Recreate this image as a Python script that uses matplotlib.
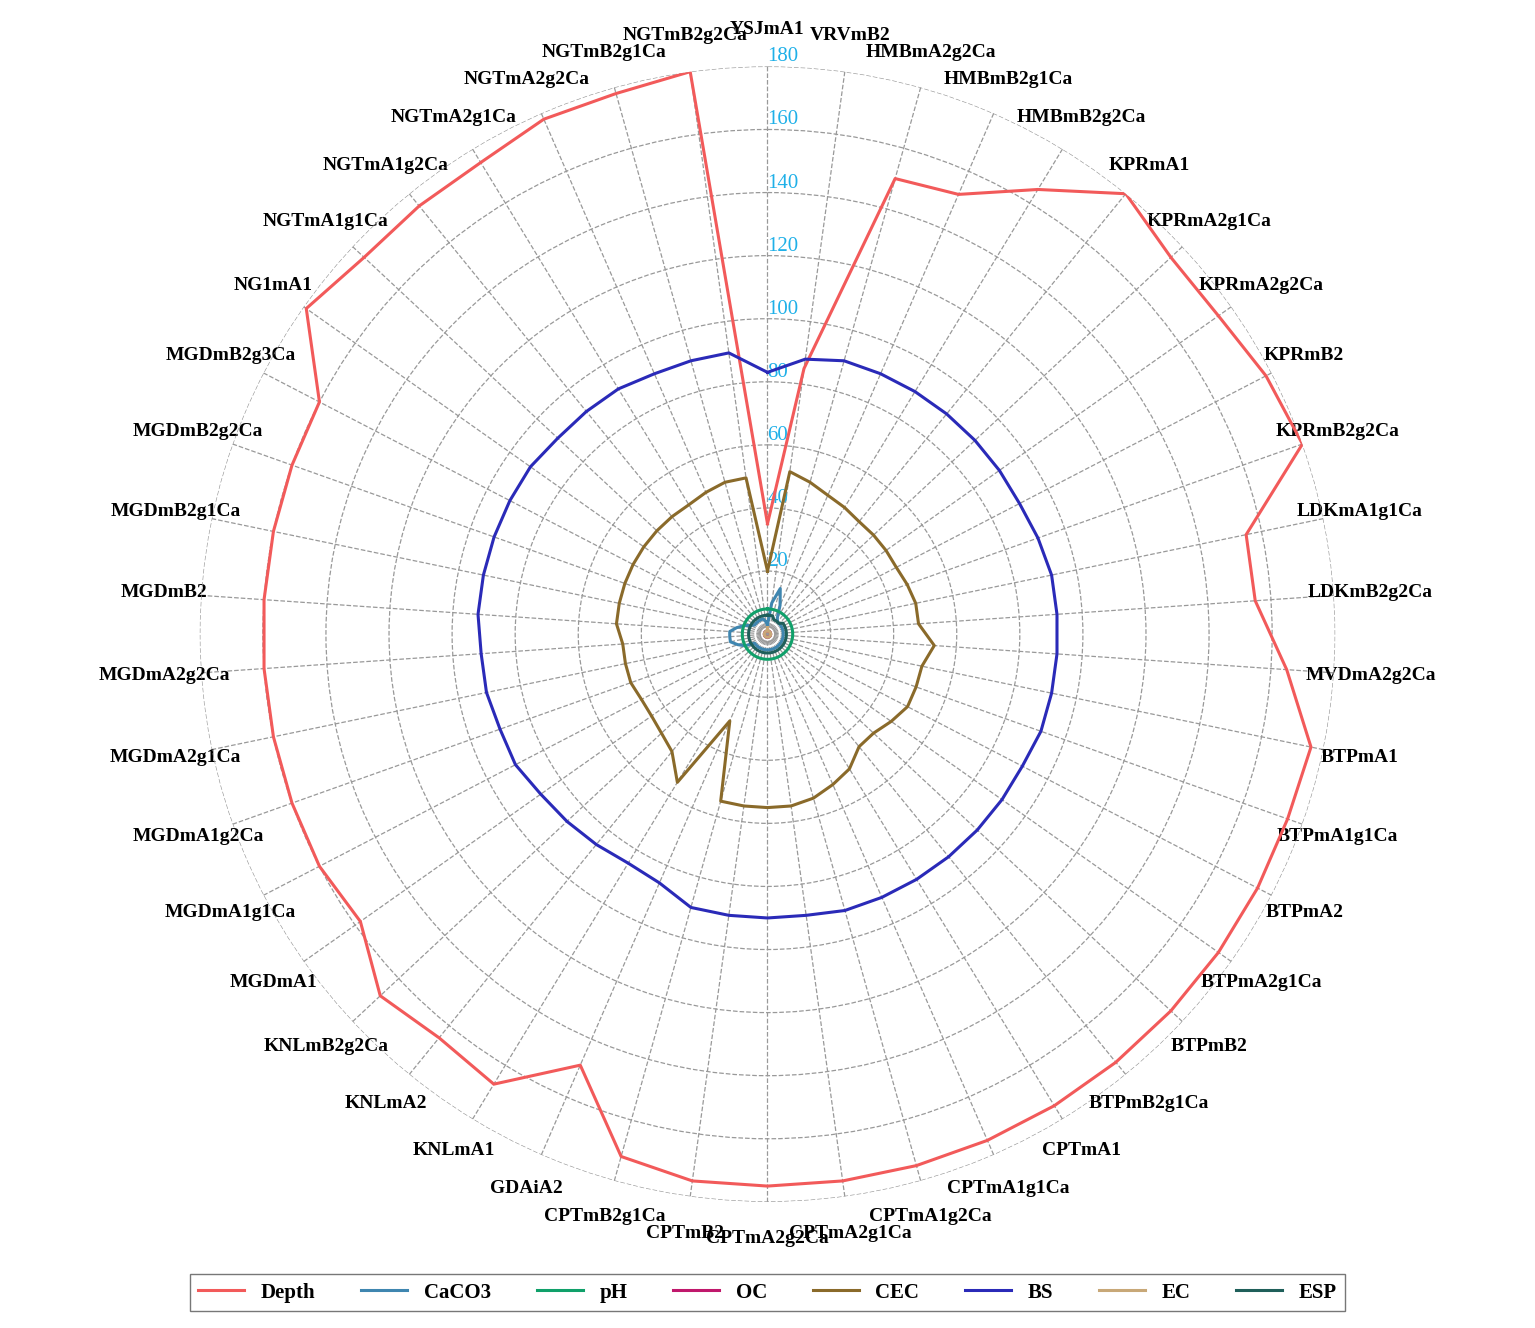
import numpy as np
import matplotlib
matplotlib.use("Agg")
import matplotlib.pyplot as plt

categories = ["YSJmA1","VRVmB2","HMBmA2g2Ca","HMBmB2g1Ca","HMBmB2g2Ca","KPRmA1","KPRmA2g1Ca",
"KPRmA2g2Ca","KPRmB2","KPRmB2g2Ca","LDKmA1g1Ca","LDKmB2g2Ca","MVDmA2g2Ca","BTPmA1","BTPmA1g1Ca",
"BTPmA2","BTPmA2g1Ca","BTPmB2","BTPmB2g1Ca","CPTmA1","CPTmA1g1Ca","CPTmA1g2Ca","CPTmA2g1Ca",
"CPTmA2g2Ca","CPTmB2","CPTmB2g1Ca","GDAiA2","KNLmA1","KNLmA2","KNLmB2g2Ca","MGDmA1","MGDmA1g1Ca",
"MGDmA1g2Ca","MGDmA2g1Ca","MGDmA2g2Ca","MGDmB2","MGDmB2g1Ca","MGDmB2g2Ca","MGDmB2g3Ca","NG1mA1",
"NGTmA1g1Ca","NGTmA1g2Ca","NGTmA2g1Ca","NGTmA2g2Ca","NGTmB2g1Ca","NGTmB2g2Ca"]

depth = [35,85,150,152,165,180,175,175,178,180,155,155,165,176,175,175,175,175,175,175,175,175,175,
         175,175,172,149,167,165,168,158,160,160,160,160,160,160,160,160,179,175,175,175,178,178,180]
bs = [83,88,90,90,90,90,90,90,90,91,92,92,92,92,92,91,91,91,91,91,91,91,90,90,90,90,86,85,86,87,
      88,90,90,91,91,92,92,92,92,92,91,91,91,90,90,90]
cec = [20,52,50,48,47,46,46,46,46,47,48,48,53,50,50,50,48,46,46,50,52,54,55,55,55,55,30,55,48,46,
       45,45,46,46,46,48,48,48,48,48,48,48,48,49,50,50]
caco3 = [3,10,15,10,6,5,5,5,5,5,5,5,5,5,5,5,5,5,5,5,5,5,5,5,5,5,5,5,5,5,5,8,10,12,12,12,10,8,6,5,5,5,5,5,5,4]
ph = [8]*46
oc = [1]*46
ec = [2]+[1]*45
esp = [6,6,6,5,5,5,5]+[6]*39
ticks = [20,40,60,80,100,120,140,160,180]

series = [("Depth",depth,"#f25a5a"),("CaCO3",caco3,"#3f86b0"),("pH",ph,"#10a06a"),
          ("OC",oc,"#c0186c"),("CEC",cec,"#8a6a2a"),("BS",bs,"#2a2ab8"),
          ("EC",ec,"#c8a878"),("ESP",esp,"#1f5f5a")]

plt.rcParams['font.family'] = ['Liberation Serif','DejaVu Serif']
fig = plt.figure(figsize=(15.35,13.28), dpi=100)
ax = fig.add_axes([0.12,0.095,0.76,0.855], projection='polar')
ax.set_theta_zero_location('N'); ax.set_theta_direction(-1)
n = len(categories)
ang = np.arange(n)*2*np.pi/n
angc = np.append(ang, ang[0])
for name, vals, col in series:
    v = np.append(vals, vals[0])
    ax.plot(angc, v, color=col, lw=2.2, label=name)
ax.set_ylim(0,180)
ax.set_yticks(ticks)
ax.set_yticklabels([str(t) for t in ticks], color='#1fb0e8', fontsize=15)
ax.set_rlabel_position(0)
ax.set_xticks(ang)
ax.set_xticklabels(categories, fontsize=14, fontweight='bold')
ax.tick_params(axis='x', pad=16)
ax.grid(True, color='#999999', ls='--', lw=0.9)
ax.spines['polar'].set_visible(False)
fig.legend(loc='lower center', ncol=8, bbox_to_anchor=(0.5,0.005),
           prop={'weight':'bold','size':15}, frameon=True, fancybox=False, edgecolor='#555555',
           handlelength=2.2, columnspacing=2.2)
fig.savefig("out.png", dpi=100)
